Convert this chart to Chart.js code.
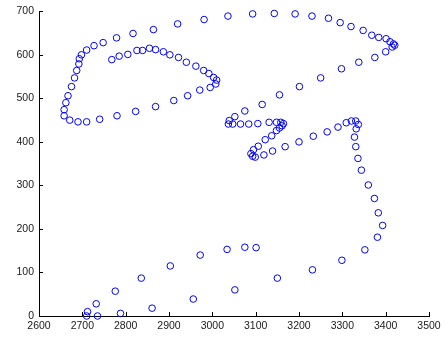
<!DOCTYPE html>
<html>
<head>
<meta charset="utf-8">
<script src="https://cdn.jsdelivr.net/npm/chart.js@4"></script>
<style>
    html, body {
        margin: 0;
        padding: 0;
        background: #fff;
    }
    #wrap {
        width: 445px;
        height: 338px;
    }
</style>
</head>
<body>
<div id="wrap"><canvas id="scatter" width="445" height="338"></canvas></div>
<script>
// trace points (x, y)
const xValues = [
    2768, 2785, 2805, 2826, 2839, 2855, 2869, 2887, 2902, 2922,
    2940, 2962, 2980, 2992, 3003, 3010, 3008, 2995, 2971, 2943,
    2911, 2869, 2823, 2780, 2740, 2710, 2690, 2671, 2658, 2658,
    2662, 2667, 2675, 2682, 2687, 2692, 2693, 2698, 2710, 2727,
    2748, 2779, 2817, 2864, 2920, 2981, 3036, 3093, 3143, 3191,
    3230, 3268, 3295, 3320, 3348, 3368, 3384, 3401, 3410, 3418,
    3421, 3415, 3400, 3375, 3338, 3298, 3250, 3201, 3155, 3115,
    3075, 3052, 3039, 3037, 3047, 3065, 3084, 3105, 3131, 3148,
    3158, 3164, 3161, 3155, 3148, 3137, 3122, 3106, 3095, 3089,
    3093, 3099, 3119, 3139, 3168, 3200, 3233, 3265, 3290, 3309,
    3321, 3331, 3337, 3332, 3328, 3331, 3336, 3344, 3360, 3374,
    3383, 3393, 3381, 3352, 3299, 3231, 3150, 3052, 2956, 2861,
    2788, 2735, 2710, 2712, 2732, 2776, 2836, 2903, 2972, 3034,
    3075, 3101
]
const yValues = [
    589, 597, 601, 610, 610, 615, 612, 607, 600, 594,
    583, 574, 564, 557, 548, 542, 533, 525, 519, 506,
    495, 481, 470, 460, 452, 446, 446, 450, 460, 474,
    490, 506, 527, 547, 564, 579, 591, 600, 611, 621,
    628, 639, 649, 658, 671, 681, 689, 694, 695, 694,
    689, 684, 674, 665, 656, 645, 640, 637, 630, 625,
    622, 618, 607, 594, 583, 568, 547, 527, 508, 486,
    471, 458, 449, 441, 441, 441, 441, 442, 445, 445,
    445, 442, 437, 432, 426, 414, 405, 390, 382, 373,
    367, 365, 370, 379, 389, 400, 413, 423, 434, 444,
    448, 448, 440, 430, 411, 389, 362, 335, 301, 270,
    237, 208, 181, 152, 128, 106, 87, 60, 39, 18,
    6, 0, 0, 10, 28, 57, 87, 115, 140, 153,
    158, 157
]
const xTicks = [2600, 2700, 2800, 2900, 3000, 3100, 3200, 3300, 3400, 3500]
const yTicks = [0, 100, 200, 300, 400, 500, 600, 700]

let points = xValues.map((x, i) => ({ x: x, y: yValues[i] }))

// ticks drawn inward like the original
const innerTicks = {
    id: 'innerTicks',
    afterDraw(chart) {
        let ctx = chart.ctx
        let area = chart.chartArea
        let xs = chart.scales.x
        let ys = chart.scales.y
        ctx.save()
        ctx.strokeStyle = '#000'
        ctx.lineWidth = 1
        ctx.beginPath()
        xTicks.forEach(v => {
            let px = Math.round(xs.getPixelForValue(v)) + 0.5
            ctx.moveTo(px, area.bottom)
            ctx.lineTo(px, area.bottom - 4)
        })
        yTicks.forEach(v => {
            let py = Math.round(ys.getPixelForValue(v)) + 0.5
            ctx.moveTo(area.left, py)
            ctx.lineTo(area.left + 4, py)
        })
        ctx.stroke()
        ctx.restore()
    }
}

const tickFont = { family: 'Liberation Sans, Arial, sans-serif', size: 10.5 }

new Chart(document.getElementById('scatter'), {
    type: 'scatter',
    data: {
        datasets: [{
            data: points,
            showLine: false,
            pointStyle: 'circle',
            pointRadius: 3.3,
            pointHoverRadius: 3.3,
            borderWidth: 1,
            borderColor: 'rgb(0, 0, 255)',
            backgroundColor: 'rgba(0, 0, 0, 0)',
            clip: false
        }]
    },
    options: {
        responsive: false,
        animation: false,
        events: [],
        layout: {
            padding: { top: 8, right: 16, left: 0, bottom: 0 }
        },
        plugins: {
            legend: { display: false },
            tooltip: { enabled: false }
        },
        scales: {
            x: {
                type: 'linear',
                min: 2600,
                max: 3500,
                afterBuildTicks: scale => {
                    scale.ticks = xTicks.map(v => ({ value: v }))
                },
                afterFit: scale => {
                    scale.height = 22
                },
                ticks: {
                    color: '#1a1a1a',
                    font: tickFont,
                    padding: 4,
                    maxRotation: 0,
                    autoSkip: false,
                    callback: v => String(v)
                },
                grid: {
                    display: true,
                    drawOnChartArea: false,
                    drawTicks: false
                },
                border: { display: true, color: '#000', width: 1 }
            },
            y: {
                min: 0,
                max: 700,
                afterBuildTicks: scale => {
                    scale.ticks = yTicks.map(v => ({ value: v }))
                },
                afterFit: scale => {
                    scale.width = 39
                },
                ticks: {
                    color: '#1a1a1a',
                    font: tickFont,
                    padding: 5,
                    autoSkip: false,
                    callback: v => String(v)
                },
                grid: {
                    display: true,
                    drawOnChartArea: false,
                    drawTicks: false
                },
                border: { display: true, color: '#000', width: 1 }
            }
        }
    },
    plugins: [innerTicks]
})
</script>
</body>
</html>
